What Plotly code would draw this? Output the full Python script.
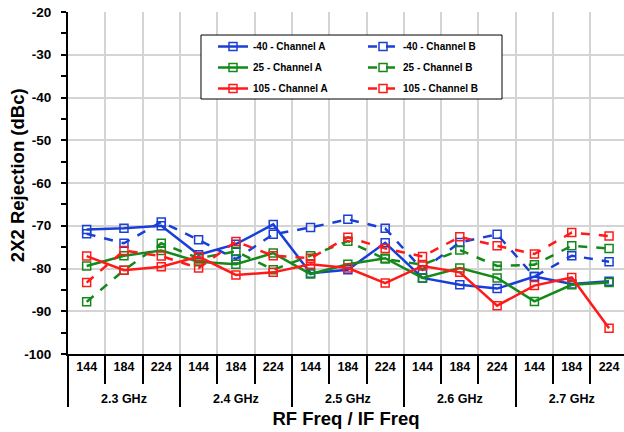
import plotly.graph_objects as go

# categories
rf_freqs = ["2.3 GHz", "2.4 GHz", "2.5 GHz", "2.6 GHz", "2.7 GHz"]
if_freqs = ["144", "184", "224"]

# 2x2 rejection (dBc), one value per RF/IF pair
m40_a = [-70.9, -70.6, -70.0, -76.8, -74.3, -69.7, -81.1, -80.3, -74.0, -82.2, -83.8, -84.7, -81.9, -83.6, -83.0]
m40_b = [-71.9, -74.1, -69.1, -73.3, -77.8, -72.0, -70.4, -68.5, -70.6, -80.3, -73.9, -72.0, -81.9, -77.0, -78.4]
t25_a = [-79.4, -77.0, -75.8, -78.4, -79.0, -76.4, -81.3, -79.0, -77.6, -82.2, -79.9, -82.2, -87.7, -83.8, -83.3]
t25_b = [-87.8, -80.4, -74.1, -77.6, -76.0, -80.3, -77.0, -73.6, -77.8, -79.1, -75.7, -79.4, -79.1, -74.7, -75.3]
t105_a = [-77.1, -80.4, -79.6, -77.2, -81.5, -80.9, -79.0, -79.9, -83.4, -79.4, -80.9, -88.7, -84.0, -82.1, -94.0]
t105_b = [-83.3, -75.8, -77.1, -79.9, -73.7, -77.0, -77.6, -72.7, -75.3, -77.2, -72.6, -74.7, -76.6, -71.6, -72.4]

y_ticks = [-100, -90, -80, -70, -60, -50, -40, -30, -20]

AZUL = "#1a3fd6"
VERDE = "#14891a"
VERMELHO = "#ff1a1a"
FONTE = "Liberation Sans, Arial, sans-serif"

# segunda linha vazia nos rotulos internos empurra os rotulos de grupo para baixo
x_outer = [rf for rf in rf_freqs for _ in if_freqs]
x_inner = [f"{f}<br> " for _ in rf_freqs for f in if_freqs]

series = [
    ("-40 - Channel A", m40_a, AZUL, "solid", "legend"),
    ("-40 - Channel B", m40_b, AZUL, "dash", "legend2"),
    ("25 - Channel A", t25_a, VERDE, "solid", "legend"),
    ("25 - Channel B", t25_b, VERDE, "dash", "legend2"),
    ("105 - Channel A", t105_a, VERMELHO, "solid", "legend"),
    ("105 - Channel B", t105_b, VERMELHO, "dash", "legend2"),
]

fig = go.Figure()
for nome, valores, cor, traco, leg in series:
    fig.add_trace(go.Scatter(
        x=[x_outer, x_inner], y=valores, name=nome,
        legend=leg, legendgroup=nome,
        mode="lines+markers",
        line=dict(color=cor, width=2.5, dash=traco),
        marker=dict(symbol="square-open", size=8, color=cor,
                    line=dict(width=1.5, color=cor)),
    ))

legenda = dict(
    orientation="v", yanchor="top", xanchor="left", y=0.9415,
    bgcolor="rgba(0,0,0,0)", borderwidth=0, tracegroupgap=2,
    font=dict(size=10, weight="bold"), itemwidth=30,
)

fig.update_layout(
    width=624, height=432,
    paper_bgcolor="white", plot_bgcolor="white",
    font=dict(family=FONTE, color="black", size=13, weight="bold"),
    margin=dict(l=68, r=0, t=12, b=78),
    showlegend=True,
    legend=dict(legenda, x=0.2608),
    legend2=dict(legenda, x=0.5306),
    shapes=[dict(type="rect", xref="paper", yref="paper",
                 x0=0.2392, x1=0.7806, y0=0.7456, y1=0.9327,
                 line=dict(color="black", width=1), fillcolor="white",
                 layer="above")],
    annotations=[dict(text="2X2 Rejection (dBc)", textangle=-90,
                      xref="paper", yref="paper", x=-0.0917, y=0.523,
                      xanchor="center", yanchor="middle", showarrow=False,
                      font=dict(size=18.5, weight="bold"))],
)
fig.update_xaxes(
    type="multicategory", range=[-0.5, 14.4],
    showline=True, linecolor="black", linewidth=2,
    showgrid=True, gridcolor="#d4d4d4", gridwidth=2,
    ticks="outside", tickson="boundaries", ticklen=28,
    tickcolor="black", tickwidth=1.5,
    showdividers=True, dividercolor="black", dividerwidth=1.5,
    tickfont=dict(size=12.5, weight="bold"),
    title=dict(text="RF Freq / IF Freq", font=dict(size=18.5, weight="bold"), standoff=7),
)
fig.update_yaxes(
    range=[-100, -20], tickmode="array", tickvals=y_ticks,
    ticktext=[str(v) for v in y_ticks], ticklabeloverflow="allow",
    showline=True, linecolor="black", linewidth=2,
    showgrid=True, gridcolor="#d4d4d4", gridwidth=2, zeroline=False,
    ticks="outside", ticklen=5, tickcolor="black", tickwidth=2,
    ticklabelstandoff=7,
    minor=dict(dtick=5, tick0=-100, ticks="outside", ticklen=5,
               tickcolor="black", tickwidth=2, showgrid=False),
    tickfont=dict(size=13.5, weight="bold"),
)

# sem margem no body, o grafico ocupa a janela inteira
fig.write_html("out.html", config={"displayModeBar": False},
               post_script="document.body.style.margin = '0';")
